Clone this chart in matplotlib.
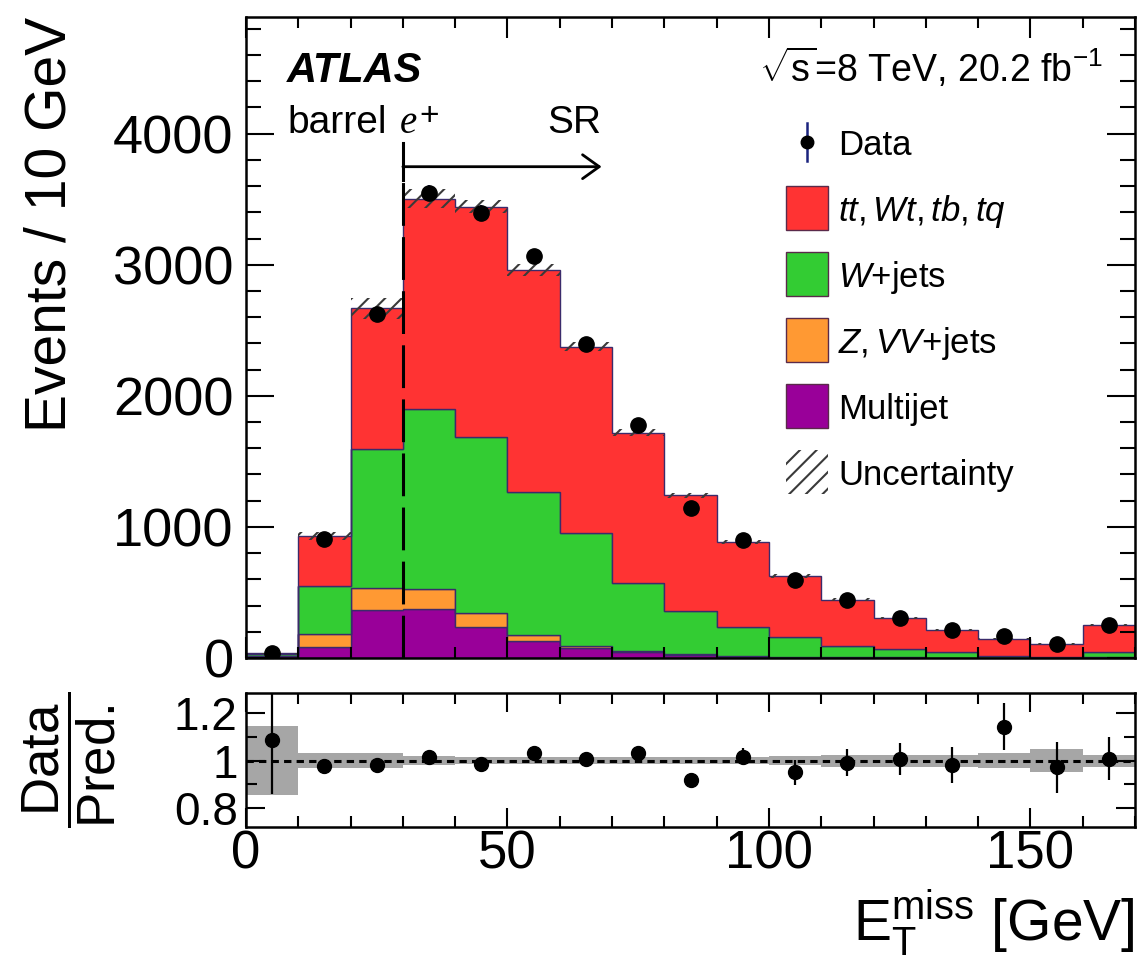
import numpy as np
import matplotlib
matplotlib.use("Agg")
import matplotlib.pyplot as plt
from matplotlib.patches import Rectangle
from matplotlib.ticker import MultipleLocator, FixedLocator, FuncFormatter

plt.rcParams["font.family"] = ["Liberation Sans", "DejaVu Sans"]
plt.rcParams["mathtext.fontset"] = "custom"
plt.rcParams["mathtext.rm"] = "Liberation Sans"
plt.rcParams["mathtext.it"] = "Liberation Sans:italic"
plt.rcParams["mathtext.bf"] = "Liberation Sans:bold"
plt.rcParams["hatch.linewidth"] = 1.5

# ---- binning (GeV) ----
bin_edges = np.arange(0, 180, 10)

# ---- stacked backgrounds, events per bin ----
multijet = [15, 84, 366, 374, 237, 130, 74, 45, 20, 8, 5, 3, 2, 2, 2, 1, 2]
z_vv_jets = [3, 99, 168, 153, 106, 46, 18, 12, 8, 5, 3, 2, 2, 1, 1, 1, 2]
w_jets = [10, 367, 1061, 1373, 1344, 1091, 862, 516, 332, 224, 152, 87, 65, 43, 12, 4, 42]
top_quark = [7, 380, 1075, 1604, 1756, 1695, 1420, 1145, 880, 649, 466, 351, 236, 168, 133, 101, 206]

# relative systematic uncertainty on the total prediction
syst_rel = [0.145, 0.03, 0.03, 0.02, 0.015, 0.015, 0.015, 0.015, 0.015, 0.015,
            0.02, 0.025, 0.025, 0.025, 0.03, 0.05, 0.025]

# ---- observed data ----
data = [38, 907, 2625, 3550, 3398, 3063, 2393, 1776, 1141, 901, 595, 439, 307, 210, 169, 104, 254]
data_err = [8, 28, 52, 60, 58, 55, 49, 42, 36, 32, 33, 25, 20, 16, 14.7, 11.6, 23]

labels = ["Multijet", r"$Z,VV$+jets", r"$W$+jets", r"$tt,Wt,tb,tq$"]
colors = ["#990099", "#ff9933", "#33cc33", "#ff3333"]
components = [multijet, z_vv_jets, w_jets, top_quark]

centers = 0.5 * (bin_edges[:-1] + bin_edges[1:])
data = np.array(data, float)
data_err = np.array(data_err, float)
syst_rel = np.array(syst_rel, float)

W, H = 1142, 960
fig = plt.figure(figsize=(W / 100, H / 100), dpi=100)
AX_L, AX_R, AX_T, AX_B = 246, 1135, 17, 658
ax = fig.add_axes([AX_L / W, 1 - AX_B / H, (AX_R - AX_L) / W, (AX_B - AX_T) / H])
rax = fig.add_axes([AX_L / W, 1 - 827 / H, (AX_R - AX_L) / W, 134 / H], sharex=ax)


def axfrac(px, py):
    """Pixel position in the figure -> fraction of the main axes."""
    return (px - AX_L) / (AX_R - AX_L), (AX_B - py) / (AX_B - AX_T)


# stacked histogram
edge_col = "#3b2b6b"
bottom = np.zeros(len(centers))
for vals, col in zip(components, colors):
    top = bottom + np.array(vals, float)
    ax.stairs(top, bin_edges, baseline=bottom, fill=True, facecolor=col,
              edgecolor=edge_col, linewidth=1.0)
    bottom = top
total = bottom

# hatched uncertainty band on the total
hatch_col = "#3a3a3a"
ax.stairs(total * (1 + syst_rel), bin_edges, baseline=total * (1 - syst_rel),
          fill=True, facecolor="none", edgecolor=hatch_col, hatch="//",
          linewidth=0)

# data points
ax.errorbar(centers, data, yerr=data_err, fmt="o", color="black",
            ecolor="#1a237e", elinewidth=1.6, markersize=11, capsize=0, zorder=5)

ax.set_xlim(0, 170)
ax.set_ylim(0, 4890)

# signal-region marker
ax.plot([30, 30], [0, 3650], color="black", lw=2.2, ls=(0, (14, 3.7)), zorder=6)
ax.plot([30, 30], [3650, 3930], color="black", lw=2.2, zorder=6)
ax.annotate("", xy=(68, 3748), xytext=(30, 3748),
            arrowprops=dict(arrowstyle="->,head_length=0.6,head_width=0.43",
                            lw=2.0, color="black", mutation_scale=20,
                            shrinkA=0, shrinkB=0))

# annotations
ax.text(*axfrac(287, 82), "ATLAS", transform=ax.transAxes, fontsize=30,
        fontweight="bold", fontstyle="italic", va="baseline", ha="left")
ax.text(*axfrac(287, 133), "barrel", transform=ax.transAxes, fontsize=28,
        va="baseline", ha="left")
ax.text(*axfrac(400, 133), "e", transform=ax.transAxes, fontsize=28,
        family="Liberation Serif", fontstyle="italic", va="baseline", ha="left")
ax.text(*axfrac(419, 117), "+", transform=ax.transAxes, fontsize=24,
        va="center", ha="left")
ax.text(*axfrac(547, 133), "SR", transform=ax.transAxes, fontsize=28,
        va="baseline", ha="left")
ax.text(*axfrac(1103, 82), r"$\sqrt{\mathrm{s}}$=8 TeV, 20.2 fb$^{\mathrm{-1}}$",
        transform=ax.transAxes, fontsize=27, va="baseline", ha="right")

# legend, laid out entry by entry
leg_x0, leg_x1 = 786, 828
leg_rows = [142, 208, 274, 340, 406, 472]
leg_text_x = 838
box_h = 44
tr = ax.transAxes
# data entry
mx, my = axfrac(807, leg_rows[0])
_, ytop = axfrac(807, leg_rows[0] - 19)
_, ybot = axfrac(807, leg_rows[0] + 19)
ax.plot([mx, mx], [ybot, ytop], color="#1a237e", lw=1.8, transform=tr,
        clip_on=False, zorder=7)
ax.plot([mx], [my], "o", color="black", ms=9, transform=tr, clip_on=False,
        zorder=8)
leg_entries = [("Data", None, None)]
for col, lab in zip(colors[::-1], labels[::-1]):
    leg_entries.append((lab, col, None))
leg_entries.append(("Uncertainty", None, "//"))
for (lab, col, hat), yc in zip(leg_entries, leg_rows):
    if col is not None or hat is not None:
        x0, y0 = axfrac(leg_x0, yc + box_h / 2)
        x1, y1 = axfrac(leg_x1, yc - box_h / 2)
        if col is not None:
            rect = Rectangle((x0, y0), x1 - x0, y1 - y0, transform=tr,
                             facecolor=col, edgecolor="#5a2a4a", lw=1.0,
                             zorder=7)
        else:
            rect = Rectangle((x0, y0), x1 - x0, y1 - y0, transform=tr,
                             facecolor="none", edgecolor=hatch_col, hatch="//",
                             lw=0, zorder=7)
        ax.add_patch(rect)
    ax.text(*axfrac(leg_text_x, yc + 13), lab, transform=tr, fontsize=25,
            va="baseline", ha="left", zorder=8)

# main axis styling
for a in (ax, rax):
    for s in a.spines.values():
        s.set_linewidth(1.8)
    a.tick_params(which="both", direction="in", top=True, right=True, width=1.5)
ax.xaxis.set_major_locator(MultipleLocator(50))
ax.xaxis.set_minor_locator(MultipleLocator(10))
ax.yaxis.set_major_locator(MultipleLocator(1000))
ax.yaxis.set_minor_locator(MultipleLocator(200))
ax.tick_params(axis="x", which="major", length=15)
ax.tick_params(axis="x", which="minor", length=8)
ax.tick_params(axis="y", which="major", length=20, labelsize=39, pad=9)
ax.tick_params(axis="y", which="minor", length=11)
ax.tick_params(axis="x", labelbottom=False)

# ratio panel
rax.stairs(1 + syst_rel, bin_edges, baseline=1 - syst_rel, fill=True,
           color="#a6a6a6", linewidth=0)
rax.axhline(1.0, color="black", lw=2.2, ls=(0, (2.4, 1.7)))
rax.errorbar(centers, data / total, yerr=data_err / total, fmt="o", color="black",
             ecolor="black", elinewidth=1.6, markersize=10, capsize=0, zorder=5)
rax.set_ylim(0.72, 1.285)
rax.yaxis.set_major_locator(FixedLocator([0.8, 1.0, 1.2]))
rax.yaxis.set_minor_locator(FixedLocator([0.9, 1.1]))
rax.yaxis.set_major_formatter(FuncFormatter(lambda v, p: f"{v:g}"))
rax.tick_params(axis="x", which="major", length=14, labelsize=38, pad=2)
rax.tick_params(axis="x", which="minor", length=8)
rax.tick_params(axis="y", which="major", length=14, labelsize=33, pad=6)
rax.tick_params(axis="y", which="minor", length=8)

# axis titles
fig.text(66 / W, 1 - 17 / H, "Events / 10 GeV", rotation=90, fontsize=41,
         ha="right", va="baseline", rotation_mode="anchor")
fig.text(69 / W, 1 - 760 / H, r"$\dfrac{\mathrm{Data}}{\mathrm{Pred.}}$",
         rotation=90, fontsize=38, ha="center", va="center",
         rotation_mode="anchor")
fig.text(1135 / W, 1 - 940 / H,
         r"E$_{\mathrm{T}}^{\mathrm{miss}}$ [GeV]", fontsize=41,
         ha="right", va="baseline")

fig.savefig("out.png", dpi=100)
